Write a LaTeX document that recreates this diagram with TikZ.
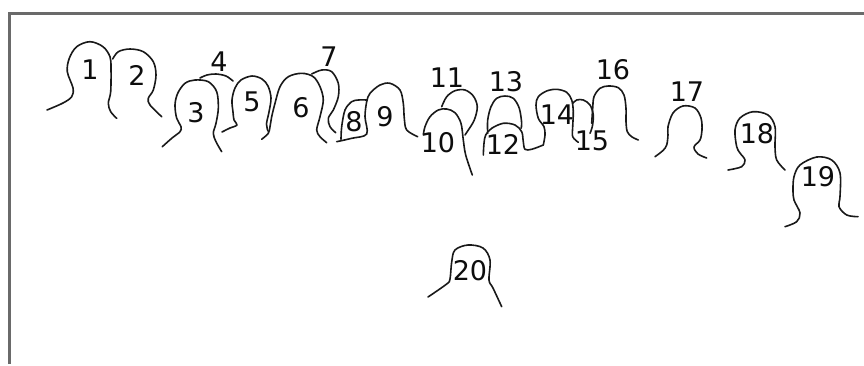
\documentclass[tikz,border=0pt]{standalone}
\usepackage{fontspec}
\setmainfont{DejaVu Sans}
\usepackage{tikz}
\definecolor{framegray}{HTML}{6A6A6A}
\tikzset{
    frame/.style = {draw=framegray, line width=1.5pt},
    head/.style = {draw=black!90, line width=0.8pt, line cap=round, line join=round, smooth, tension=0.55},
    lbl/.style = {inner sep=0pt, text=black!95, font=\fontsize{13.5}{15}\selectfont}
}

\begin{document}
\begin{tikzpicture}[x=0.5pt,y=-0.5pt]
\useasboundingbox (0,0) rectangle (864,365);
\draw[frame] (9,364) -- (9,13) -- (864,13);
%
\draw[head] plot coordinates {(47,110) (63,103) (71.7,96.7) (73,88) (67.3,71.7) (69.3,58.3) (76.7,46.7) (90,41.7) (103,46.7) (110,56.7) (111,68) (110.7,91.7) (108.3,103.3) (110.7,111.7) (116.7,118.3)};
\draw[head] plot coordinates {(112.7,59) (118.3,51.7) (130,49) (143.3,51.7) (153.3,61.7) (156,75) (153.3,90) (148.3,98.3) (150,105) (161.7,116.7)};
\draw[head] plot coordinates {(162.3,146.7) (171.7,138.3) (180,131.7) (181,126.7) (176.7,118.3) (175,105) (177.7,93.3) (185,83.3) (195,80) (208.3,81.7) (216.7,91.7) (218.3,108.3) (216,123.3) (213.3,133.3) (216,141.7) (221.7,151.7)};
\draw[head] plot coordinates {(200,78) (207,75) (216,74) (226,76) (233,81)};
\draw[head] plot coordinates {(222,132) (230,128) (237,125) (234,120) (233,112) (232,100) (235,88) (241,80) (252,76) (262,79) (268,86) (271,98) (269,112) (266.5,124) (268,131)};
\draw[head] plot coordinates {(261.7,139.3) (268.3,133.3) (270,126.7) (271.7,116.7) (275,103.3) (280,86.7) (288.3,76.7) (301.7,73.3) (313.3,76.7) (320,86.7) (323.3,100) (320,116.7) (316.7,130) (320,136.7) (326.7,142.7)};
\draw[head] plot coordinates {(311.7,74) (321.7,70) (331.7,71.7) (338.3,83.3) (338.3,96.7) (333.3,110) (328.3,118.3) (330,126.7) (335.7,132.7)};
\draw[head] plot coordinates {(341,139.3) (341.7,126.7) (345,110) (351.7,101.7) (358.3,100) (366.7,100)};
\draw[head] plot coordinates {(336.7,141.7) (351.7,138.3) (366.7,134) (365,116.7) (366.7,101.7) (370,93.3) (380,85) (390,83.3) (400,90) (403.3,103.3) (404.3,118.3) (406.7,130) (417.7,136.7)};
\draw[head] plot coordinates {(423.3,135) (425,126.7) (430,116.7) (438.3,110) (446.7,109) (455,112.7) (461,123.3) (463.3,140) (465.7,155) (472.3,175)};
\draw[head] plot coordinates {(441.7,106.7) (446.7,96.7) (455,90.7) (465,90) (473.3,96) (477.3,106.7) (474.3,120) (468.3,130) (465,135)};
\draw[head] plot coordinates {(483.3,155) (484,143.3) (485.7,135) (491.7,128.3) (503.3,123.3) (515,125) (521.7,131.7) (523.3,141.7) (525,149.3) (531.7,149.3) (543.3,145)};
\draw[head] plot coordinates {(487.7,133.3) (487.7,120) (491,106.7) (496.7,98.3) (505,96) (513.3,98.3) (519.3,108.3) (521.7,123.3) (521,128.3)};
\draw[head] plot coordinates {(543.3,145) (545,135) (544,126.7) (538.3,118.3) (536,105) (538.3,96.7) (546.7,91) (556.7,89.3) (566.7,92.3) (571.7,100) (573.3,111.7) (572.7,126.7) (572.7,136.7) (578.3,142.3)};
\draw[head] plot coordinates {(572.7,103.3) (576.7,100) (583.3,100) (590,105) (593.3,115) (592.3,126.7) (590,133.3)};
\draw[head] plot coordinates {(591.7,123.3) (592.7,108.3) (594,96.7) (600,88.3) (608.3,86) (618.3,87.7) (624,95) (626,108.3) (626,121.7) (627.3,131.7) (631.7,136.7) (638.3,140)};
\draw[head] plot coordinates {(655,156.7) (663,150.5) (666.7,145) (668,135) (668,126.7) (673,113) (683,106) (695,108) (701,118) (702,130) (700,140) (694,147) (698,154) (706.7,158)};
\draw[head] plot coordinates {(728,170) (741.7,166.7) (745,160) (740,153) (736.7,146.7) (735,130) (740,118) (753,111.7) (768,115) (775,126.7) (775,146.7) (776.7,160) (785,170)};
\draw[head] plot coordinates {(785,226.7) (796.7,221.7) (800,213) (794,200) (793,190) (794,176.7) (800,165) (816.7,157) (831.7,160) (840,173) (840,196.7) (839,206.7) (846.7,215) (858,216.7)};
\draw[head] plot coordinates {(428,297) (446.7,284) (450,279) (451.7,262) (455,250) (468,245) (483,248) (490,260) (489,280) (493,288) (501.7,306.7)};
%
\node[lbl] at (90,70) (p1) {1};
\node[lbl] at (137,75) (p2) {2};
\node[lbl] at (196,113) (p3) {3};
\node[lbl] at (219,62) (p4) {4};
\node[lbl] at (252,102) (p5) {5};
\node[lbl] at (301,108) (p6) {6};
\node[lbl] at (329,57) (p7) {7};
\node[lbl] at (354,122) (p8) {8};
\node[lbl] at (385,117) (p9) {9};
\node[lbl] at (438,143) (p10) {10};
\node[lbl] at (447,78) (p11) {11};
\node[lbl] at (503,144) (p12) {12};
\node[lbl] at (506,82) (p13) {13};
\node[lbl] at (557,115) (p14) {14};
\node[lbl] at (592,141) (p15) {15};
\node[lbl] at (613,70) (p16) {16};
\node[lbl] at (687,92) (p17) {17};
\node[lbl] at (757,134) (p18) {18};
\node[lbl] at (818,177) (p19) {19};
\node[lbl] at (470,271) (p20) {20};

\end{tikzpicture}
\end{document}
